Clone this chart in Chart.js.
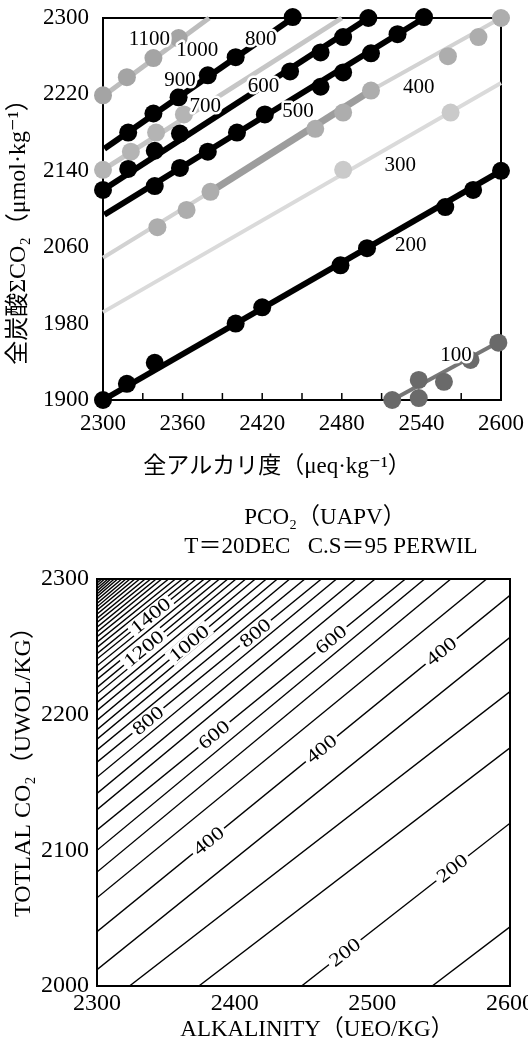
<!DOCTYPE html>
<html>
<head>
<meta charset="utf-8">
<script src="https://cdn.jsdelivr.net/npm/chart.js"></script>
<style>
    body { margin: 0; background: #fff; width: 528px; height: 1046px; overflow: hidden; position: relative; }
    canvas { position: absolute; left: 0; }
    #topChart { top: 0; }
    #bottomChart { top: 490px; }
</style>
</head>
<body>
<canvas id="topChart" width="528" height="490"></canvas>
<canvas id="bottomChart" width="528" height="556"></canvas>
<script>
const SERIF = "'Liberation Serif', 'DejaVu Serif', 'Noto Sans CJK JP', serif";

// ---- upper chart: pCO2 isolines, total alkalinity vs total CO2
const topXLabels = [2300, 2360, 2420, 2480, 2540, 2600];
const topXMarks = [2300, 2330, 2360, 2390, 2420, 2450, 2480, 2510, 2540, 2570, 2600];
const topYLabels = [1900, 1980, 2060, 2140, 2220, 2300];

const line1000 = [[2300, 2218], [2380, 2300]];
const dots1000 = [[2300, 2219], [2318, 2238], [2338, 2258], [2357, 2279]];
const line800 = [[2301, 2163], [2443, 2300]];
const dots800 = [[2319, 2180], [2338, 2200], [2357, 2217], [2379, 2240], [2400, 2259], [2443, 2301]];
const line700 = [[2300, 2141], [2480, 2300]];
const dots700 = [[2300, 2141], [2321, 2160], [2340, 2180], [2361, 2199]];
const line600 = [[2300, 2120], [2500, 2300]];
const dots600 = [[2300, 2120], [2319, 2142], [2339, 2161], [2358, 2179], [2441, 2244], [2464, 2264], [2481, 2280], [2500, 2300]];
const line500 = [[2301, 2094], [2542, 2300]];
const dots500 = [[2339, 2124], [2358, 2143], [2379, 2160], [2401, 2180], [2422, 2199], [2464, 2228], [2481, 2243], [2502, 2263], [2522, 2283], [2542, 2301]];
const line400 = [[2300, 2049], [2381, 2118], [2502, 2224], [2600, 2300]];
const dots400 = [[2341, 2081], [2363, 2099], [2381, 2118], [2460, 2184], [2481, 2201], [2502, 2224], [2560, 2260], [2583, 2280], [2600, 2300]];
const line300 = [[2300, 1992], [2600, 2232]];
const dots300 = [[2481, 2141], [2562, 2201]];
const line200 = [[2300, 1900], [2600, 2140]];
const dots200 = [[2300, 1900], [2318, 1917], [2339, 1939], [2400, 1980], [2420, 1997], [2479, 2041], [2499, 2059], [2558, 2102], [2579, 2120], [2600, 2140]];
const line100 = [[2518, 1900], [2600, 1962]];
const dots100 = [[2518, 1900], [2538, 1921], [2538, 1902], [2557, 1919], [2577, 1942], [2598, 1960]];

const topLabelText = ['1100', '1000', '900', '800', '700', '600', '500', '400', '300', '200', '100'];
const topLabelX = [2335, 2371, 2358, 2419, 2377, 2421, 2447, 2538, 2524, 2532, 2566];
const topLabelY = [2278, 2266, 2235, 2277, 2207, 2228, 2202, 2227, 2146, 2062, 1947];

// ---- lower chart: computed PCO2 contours (50 uatm step)
const botXLabels = [2300, 2400, 2500, 2600];
const botYLabels = [2000, 2100, 2200, 2300];
const botLevels = [150, 200, 250, 300, 350, 400, 450, 500, 550, 600, 650, 700, 750, 800, 850, 900, 950, 1000,
    1050, 1100, 1150, 1200, 1250, 1300, 1350, 1400, 1450, 1500, 1550, 1600, 1650, 1700, 1750, 1800, 1850, 1900,
    1950, 2000, 2050, 2100, 2150, 2200, 2250, 2300, 2350, 2400];
const botX0 = [2543.5, 2448.6, 2374, 2323.6, 2300, 2300, 2300, 2300, 2300, 2300, 2300, 2300, 2300, 2300, 2300, 2300,
    2300, 2300, 2300, 2300, 2300, 2300, 2300, 2300, 2300, 2300, 2300, 2300, 2300, 2300, 2300, 2300, 2300, 2300,
    2300, 2300, 2300, 2300, 2300, 2300, 2300, 2300, 2300, 2300, 2300, 2300];
const botY0 = [2000, 2000, 2000, 2000, 2012, 2040, 2065, 2084, 2100, 2115, 2130, 2142, 2154, 2165, 2174, 2182,
    2189, 2196, 2203, 2209, 2215, 2220, 2226, 2231, 2236, 2241, 2245, 2249.5, 2253.5, 2257.5, 2261, 2264.5, 2268,
    2271, 2274, 2277, 2279.5, 2282, 2284.5, 2287, 2289, 2291, 2293, 2295, 2297, 2298.5];
const botX1 = [2600, 2600, 2600, 2600, 2600, 2600, 2583, 2557, 2538, 2524, 2502, 2488, 2474, 2463, 2451, 2440,
    2431, 2423, 2415, 2408, 2401, 2395, 2389, 2383, 2378, 2372, 2367, 2362, 2357, 2352, 2347, 2343, 2339, 2335,
    2331, 2327.5, 2324, 2321, 2318, 2315, 2312.5, 2310, 2308, 2305.5, 2303.5, 2301.5];
const botY1 = [2043.6, 2120, 2175.5, 2217, 2257, 2288, 2300, 2300, 2300, 2300, 2300, 2300, 2300, 2300, 2300, 2300,
    2300, 2300, 2300, 2300, 2300, 2300, 2300, 2300, 2300, 2300, 2300, 2300, 2300, 2300, 2300, 2300, 2300, 2300,
    2300, 2300, 2300, 2300, 2300, 2300, 2300, 2300, 2300, 2300, 2300, 2300];

const botLabelLevel = [1400, 1200, 1000, 800, 800, 600, 600, 400, 400, 400, 200, 200];
const botLabelX = [2339, 2334, 2367, 2337, 2415, 2385, 2470, 2463, 2550, 2381, 2480, 2558];

const pts = arr => arr.map(p => ({ x: p[0], y: p[1] }));

const lineSet = (data, color, width, order) => ({
    data: pts(data), showLine: true, borderColor: color, borderWidth: width,
    pointRadius: 0, clip: false, order: order, borderCapStyle: 'butt'
});
const dotSet = (data, color, order) => ({
    data: pts(data), showLine: false, backgroundColor: color, borderColor: color,
    borderWidth: 0, pointRadius: 9, clip: false, order: order
});

const topDecor = {
    id: 'topDecor',
    beforeDatasetsDraw(chart) {
        const { ctx, chartArea: a, scales: { x } } = chart;
        ctx.save();
        ctx.strokeStyle = '#000';
        ctx.lineWidth = 2;
        ctx.strokeRect(a.left, a.top, a.right - a.left, a.bottom - a.top);
        ctx.lineWidth = 1.5;
        topXMarks.forEach(v => {
            const px = x.getPixelForValue(v);
            ctx.beginPath();
            ctx.moveTo(px, a.bottom);
            ctx.lineTo(px, a.bottom - 7);
            ctx.stroke();
        });
        ctx.restore();
    },
    afterDatasetsDraw(chart) {
        const { ctx, scales: { x, y } } = chart;
        ctx.save();
        ctx.font = `21px ${SERIF}`;
        ctx.textAlign = 'center';
        ctx.textBaseline = 'middle';
        ctx.lineJoin = 'round';
        topLabelText.forEach((t, i) => {
            const px = x.getPixelForValue(topLabelX[i]);
            const py = y.getPixelForValue(topLabelY[i]);
            ctx.strokeStyle = '#fff';
            ctx.lineWidth = 5;
            ctx.strokeText(t, px, py);
            ctx.fillStyle = '#000';
            ctx.fillText(t, px, py);
        });
        ctx.restore();
    },
    afterDraw(chart) {
        const { ctx } = chart;
        ctx.save();
        ctx.fillStyle = '#000';
        ctx.textAlign = 'center';
        ctx.textBaseline = 'middle';
        ctx.font = `23px ${SERIF}`;
        ctx.fillText('全アルカリ度（μeq·kg⁻¹）', 277, 467);
        ctx.translate(19, 226);
        ctx.rotate(-Math.PI / 2);
        ctx.font = `24px ${SERIF}`;
        ctx.fillText('全炭酸ΣCO₂（μmol·kg⁻¹）', 0, 0);
        ctx.restore();
    }
};

const bottomDecor = {
    id: 'bottomDecor',
    afterDatasetsDraw(chart) {
        const { ctx, chartArea: a, scales: { x, y } } = chart;
        ctx.save();
        ctx.strokeStyle = '#000';
        ctx.lineWidth = 2;
        ctx.strokeRect(a.left, a.top, a.right - a.left, a.bottom - a.top);

        ctx.font = `19px ${SERIF}`;
        ctx.textAlign = 'center';
        ctx.textBaseline = 'middle';
        botLabelLevel.forEach((lv, i) => {
            const k = botLevels.indexOf(lv);
            const x0 = x.getPixelForValue(botX0[k]), y0 = y.getPixelForValue(botY0[k]);
            const x1 = x.getPixelForValue(botX1[k]), y1 = y.getPixelForValue(botY1[k]);
            const px = x.getPixelForValue(botLabelX[i]);
            const py = y0 + (y1 - y0) * (px - x0) / (x1 - x0);
            const t = String(lv);
            ctx.save();
            ctx.translate(px, py);
            ctx.rotate(Math.atan2(y1 - y0, x1 - x0));
            ctx.scale(1.2, 1);
            const w = ctx.measureText(t).width + 5;
            ctx.fillStyle = '#fff';
            ctx.fillRect(-w / 2, -8, w, 16);
            ctx.fillStyle = '#000';
            ctx.fillText(t, 0, 1);
            ctx.restore();
        });
        ctx.restore();
    },
    afterDraw(chart) {
        const { ctx } = chart;
        ctx.save();
        ctx.fillStyle = '#000';
        ctx.textAlign = 'center';
        ctx.textBaseline = 'middle';
        ctx.font = `23px ${SERIF}`;
        ctx.fillText('PCO₂（UAPV）', 325, 28);
        ctx.fillText('T＝20DEC   C.S＝95 PERWIL', 331, 57);
        ctx.fillText('ALKALINITY（UEO/KG）', 317, 540);
        ctx.translate(24, 276);
        ctx.rotate(-Math.PI / 2);
        ctx.font = `24px ${SERIF}`;
        ctx.fillText('TOTLAL CO₂（UWOL/KG）', 0, 0);
        ctx.restore();
    }
};

const axisCommon = (ticks, labels, size, padding) => ({
    type: 'linear',
    afterBuildTicks: s => { s.ticks = ticks.map(v => ({ value: v })); },
    grid: { display: false, drawTicks: false },
    border: { display: false },
    ticks: {
        color: '#000', font: { family: SERIF, size: size }, padding: padding,
        autoSkip: false, maxRotation: 0,
        callback: v => labels.includes(v) ? String(v) : ''
    }
});

new Chart(document.getElementById('topChart'), {
    type: 'scatter',
    data: {
        datasets: [
            lineSet(line200, '#000', 6, 2), dotSet(dots200, '#000', 1),
            lineSet(line500, '#000', 6, 2), dotSet(dots500, '#000', 1),
            lineSet(line600, '#000', 6, 2), dotSet(dots600, '#000', 1),
            lineSet(line800, '#000', 6, 2), dotSet(dots800, '#000', 1),
            lineSet(line1000, '#bdbdbd', 5, 4), dotSet(dots1000, '#a4a4a4', 3),
            lineSet(line700, '#c6c6c6', 5, 4), dotSet(dots700, '#b4b4b4', 3),
            Object.assign(lineSet(line400, '#d2d2d2', 4, 4), {
                segment: {
                    borderColor: c => c.p0DataIndex === 1 ? '#9d9d9d' : '#d2d2d2',
                    borderWidth: c => c.p0DataIndex === 1 ? 7 : 4
                }
            }),
            dotSet(dots400, '#adadad', 3),
            lineSet(line300, '#dadada', 4, 4), dotSet(dots300, '#cacaca', 3),
            lineSet(line100, '#767676', 4, 4), dotSet(dots100, '#6a6a6a', 3)
        ]
    },
    options: {
        responsive: false,
        animation: false,
        devicePixelRatio: 1,
        layout: { padding: { top: 18, right: 27, left: 0, bottom: 0 } },
        plugins: { legend: { display: false }, tooltip: { enabled: false } },
        scales: {
            x: Object.assign(axisCommon(topXMarks, topXLabels, 23, 10), {
                min: 2300, max: 2600,
                afterFit: s => { s.height = 90; s.paddingLeft = 0; s.paddingRight = 0; }
            }),
            y: Object.assign(axisCommon(topYLabels, topYLabels, 23, 14), {
                min: 1900, max: 2300,
                afterFit: s => { s.width = 103; s.paddingTop = 0; s.paddingBottom = 0; }
            })
        }
    },
    plugins: [topDecor]
});

new Chart(document.getElementById('bottomChart'), {
    type: 'scatter',
    data: {
        datasets: botLevels.map((lv, i) => ({
            label: String(lv),
            data: [{ x: botX0[i], y: botY0[i] }, { x: botX1[i], y: botY1[i] }],
            showLine: true, borderColor: '#000', borderWidth: 1.4, pointRadius: 0
        }))
    },
    options: {
        responsive: false,
        animation: false,
        devicePixelRatio: 1,
        layout: { padding: { top: 89, right: 18, left: 0, bottom: 0 } },
        plugins: { legend: { display: false }, tooltip: { enabled: false } },
        scales: {
            x: Object.assign(axisCommon(botXLabels, botXLabels, 24, 3), {
                min: 2300, max: 2600,
                afterFit: s => { s.height = 60; s.paddingLeft = 0; s.paddingRight = 0; }
            }),
            y: Object.assign(axisCommon(botYLabels, botYLabels, 24, 8), {
                min: 2000, max: 2300,
                afterFit: s => { s.width = 97; s.paddingTop = 0; s.paddingBottom = 0; }
            })
        }
    },
    plugins: [bottomDecor]
});
</script>
</body>
</html>
